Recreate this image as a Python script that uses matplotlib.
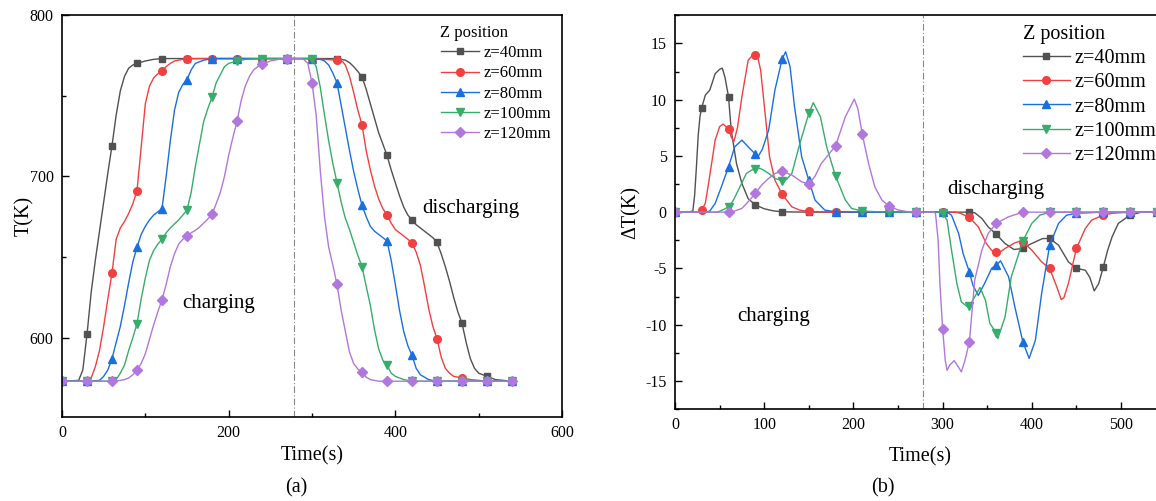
import matplotlib
matplotlib.use("Agg")
import matplotlib.pyplot as plt
import numpy as np
from matplotlib.ticker import MultipleLocator

plt.rcParams['font.family'] = ['Liberation Serif', 'DejaVu Serif']
plt.rcParams['axes.unicode_minus'] = False

# ---- panel (a): temperature T(K) vs time ----
ta40 = [0, 20, 25, 30, 35, 40, 45, 50, 55, 60, 65, 70, 75, 80, 85, 90, 100, 110, 120, 150, 180, 210, 240, 270, 300,
        330, 340, 345, 350, 355, 360, 365, 370, 375, 380, 385, 390, 395, 400, 405, 410, 415, 420, 425, 430, 435, 440,
        445, 450, 455, 460, 465, 470, 475, 480, 485, 490, 495, 500, 510, 520, 540]
Ta40 = [573, 573.5, 580, 602, 628, 648, 666, 684, 702, 719, 738, 753, 762, 767, 769, 770, 771.5, 772.5, 773, 773, 773,
        773, 773, 773, 773, 773, 772, 770.5, 768, 765, 761.6, 754, 745, 736, 727, 720, 713, 704, 696, 688, 681, 676,
        673, 670, 668, 666, 664, 662, 659, 652, 644, 635, 625, 616, 609, 597, 587, 581, 578, 576, 574, 573]

ta60 = [0, 30, 35, 40, 45, 50, 55, 60, 65, 70, 75, 80, 85, 90, 95, 100, 105, 110, 115, 120, 125, 130, 135, 140, 150,
        180, 210, 240, 270, 300, 330, 337, 340, 345, 350, 355, 360, 365, 370, 375, 380, 385, 390, 395, 400, 405, 410,
        415, 420, 425, 430, 435, 440, 445, 450, 455, 460, 465, 470, 480, 490, 510, 540]
Ta60 = [573, 573, 575, 582, 592, 607, 624, 640, 661, 668, 672, 677, 683, 691, 718, 745, 756, 761, 763.5, 765.3, 768,
        770, 771.5, 772, 773, 773, 773, 773, 773, 773, 772, 771, 769, 762, 752, 741, 732, 716, 704, 694, 686, 680, 676,
        671, 667, 665, 663, 661, 658.7, 653, 645, 632, 618, 607, 599.4, 588, 581, 578, 576, 575, 574, 573, 573]

ta80 = [0, 30, 45, 50, 55, 60, 65, 70, 75, 80, 85, 90, 95, 100, 105, 110, 115, 120, 125, 130, 135, 140, 145, 150, 155,
        160, 170, 180, 210, 240, 270, 300, 310, 315, 320, 325, 330, 335, 340, 345, 350, 355, 360, 365, 370, 375, 380,
        385, 390, 395, 400, 405, 410, 415, 420, 425, 430, 440, 450, 480, 510, 540]
Ta80 = [573, 573, 573.5, 576, 580, 587, 597, 607, 620, 634, 647, 656, 664, 669, 673, 676, 678, 680, 700, 722, 741, 752,
        757, 760, 766, 770, 772, 773, 773, 773, 773, 773, 772.5, 771.5, 769, 764, 758, 744, 730, 716, 703, 692, 682,
        675, 669, 666, 664, 662, 660, 648, 633, 617, 604, 595, 589, 581, 577, 574, 573, 573, 573, 573]

ta100 = [0, 30, 60, 65, 70, 75, 80, 85, 90, 95, 100, 105, 110, 115, 120, 125, 130, 135, 140, 145, 150, 155, 160, 165,
         170, 175, 180, 185, 190, 195, 200, 210, 220, 240, 270, 300, 305, 310, 315, 320, 325, 330, 335, 340, 345, 350,
         355, 360, 365, 370, 375, 380, 385, 390, 395, 400, 410, 420, 450, 480, 510, 540]
Ta100 = [573, 573, 573, 574, 578, 583, 592, 600, 608.6, 624, 637, 648, 654, 658, 661, 665, 668, 670.5, 673, 676, 679,
         690, 706, 720, 734, 742, 749, 758, 763, 768, 770, 771.5, 772.5, 773, 773, 773, 768, 755, 738, 722, 708, 696,
         684, 674, 667, 659, 651, 644, 632, 620, 605, 593, 586, 583, 578, 576, 574, 573, 573, 573, 573, 573]

ta120 = [0, 30, 60, 70, 75, 80, 85, 90, 95, 100, 105, 110, 115, 120, 125, 130, 135, 140, 145, 150, 155, 160, 165, 170,
         175, 180, 185, 190, 195, 200, 205, 210, 215, 220, 225, 230, 235, 240, 250, 260, 270, 280, 290, 295, 300, 305,
         310, 315, 320, 325, 330, 335, 340, 345, 350, 355, 360, 365, 370, 380, 390, 420, 450, 480, 510, 540]
Ta120 = [573, 573, 573, 573.5, 574, 575, 577, 580, 584, 590, 599, 608, 616, 623.5, 633, 644, 652, 658, 661, 663, 665,
         666.5, 668.5, 671, 673.5, 676.5, 683, 690, 700, 713, 724, 734, 747, 756, 762, 766, 768, 769.4, 771.5, 772.5,
         773, 773, 772.5, 770, 758, 738, 703, 675, 656, 645, 633, 617, 604, 591, 584, 580.5, 578.7, 575.5, 574, 573,
         573, 573, 573, 573, 573, 573]

# ---- panel (b): temperature difference dT(K) vs time ----
tb40 = [0, 15, 20, 22, 24, 26, 28, 30, 34, 39, 45, 50, 53, 56, 60, 63, 69, 75, 82, 90, 100, 110, 120, 150, 180, 210,
        240, 270, 300, 330, 336, 344, 351, 360, 370, 380, 390, 397, 404, 412, 420, 430, 441, 450, 460, 465, 470, 475,
        480, 485, 490, 497, 510, 523, 540]
dT40 = [0, 0, 0.1, 1.5, 4.0, 6.8, 8.5, 9.3, 10.4, 10.85, 12.3, 12.7, 12.8, 12.0, 10.26, 7.3, 4.3, 2.55, 1.2, 0.65, 0.3,
        0.12, 0.03, 0, 0, 0, 0, 0, 0, 0, -0.05, -0.56, -1.3, -1.96, -2.79, -3.32, -3.23, -2.9, -2.64, -2.35, -2.34,
        -2.94, -4.42, -5.0, -5.16, -5.8, -7.0, -6.35, -4.92, -3.4, -2.2, -1.0, -0.27, 0, 0]

tb60 = [0, 25, 30, 34, 37, 41, 45, 50, 54, 60, 63, 66, 70, 75, 82, 87, 90, 92, 96, 101, 106, 112, 120, 131, 140, 150,
        180, 210, 240, 270, 300, 314, 320, 330, 340, 349, 355, 360, 363, 370, 381, 386, 390, 400, 411, 420, 428, 433,
        436, 441, 450, 460, 467, 480, 490, 510, 540]
dT60 = [0, 0, 0.15, 0.8, 2.25, 4.3, 6.4, 7.6, 7.83, 7.38, 6.7, 6.26, 7.5, 10.26, 13.5, 13.95, 13.97, 14.05, 12.63,
        8.78, 4.92, 2.84, 1.6, 0.47, 0.18, 0.06, 0, 0, 0, 0, 0, 0, -0.1, -0.47, -1.3, -2.79, -3.4, -3.53, -3.62, -3.23,
        -2.73, -2.6, -2.64, -3.38, -4.42, -5.0, -6.64, -7.77, -7.6, -6.35, -3.23, -1.45, -0.71, -0.27, -0.1, 0, 0]

tb80 = [0, 35, 39, 45, 52, 60, 67, 75, 82, 90, 93, 98, 105, 112, 120, 124, 129, 134, 142, 150, 157, 168, 180, 210, 240,
        270, 300, 306, 310, 318, 323, 330, 334, 340, 347, 355, 360, 365, 374, 381, 390, 397, 404, 411, 420, 430, 439,
        450, 480, 510, 540]
dT80 = [0, 0, 0.1, 0.77, 2.25, 4.03, 5.81, 6.4, 5.81, 5.16, 4.92, 5.6, 7.3, 10.85, 13.58, 14.26, 12.93, 9.37, 4.92,
        2.84, 1.07, 0.18, 0.03, 0, 0, 0, 0, -0.05, -0.27, -1.9, -3.68, -5.31, -6.5, -7.4, -6.35, -5.0, -4.72, -4.33,
        -5.75, -8.42, -11.54, -13.0, -11.4, -7.24, -2.94, -1.0, -0.27, -0.1, 0, 0, 0]

tb100 = [0, 45, 49, 55, 60, 65, 71, 80, 86, 90, 92, 98, 105, 112, 120, 125, 131, 140, 150, 155, 163, 170, 180, 191,
         198, 210, 240, 270, 295, 300, 305, 310, 316, 321, 328, 330, 336, 342, 348, 353, 360, 362, 370, 377, 390, 400,
         409, 420, 450, 480, 510, 540]
dT100 = [0, 0, 0.05, 0.25, 0.47, 1.0, 1.96, 3.44, 3.75, 3.8, 3.97, 3.8, 3.44, 3.0, 2.79, 2.9, 3.44, 6.11, 8.78, 9.73,
         8.48, 5.81, 3.2, 1.07, 0.33, 0.09, 0, 0, 0, -0.1, -0.71, -3.38, -6.35, -7.98, -8.42, -8.36, -7.53, -6.7, -7.83,
         -9.9, -10.7, -11.24, -9.31, -5.75, -2.55, -1.0, -0.27, 0, 0, 0, 0, 0]

tb120 = [0, 60, 65, 75, 82, 90, 97, 105, 112, 120, 131, 142, 150, 157, 164, 172, 180, 191, 201, 205, 210, 217, 224,
         232, 240, 250, 260, 270, 290, 292, 295, 297, 300, 303, 305, 308, 313, 318, 321, 325, 330, 336, 344, 351, 360,
         374, 390, 420, 450, 480, 510, 540]
dT120 = [0, 0, 0.05, 0.33, 0.92, 1.66, 2.4, 3.0, 3.44, 3.62, 3.3, 2.7, 2.49, 3.2, 4.33, 5.1, 5.9, 8.48, 10.05, 9.2,
         6.91, 4.33, 2.25, 1.07, 0.53, 0.2, 0.05, 0, 0, -0.1, -2.49, -6.35, -10.35, -13.2, -14.06, -13.6, -13.2, -13.8,
         -14.2, -13.2, -11.54, -6.05, -3.38, -1.9, -1.0, -0.41, 0, 0, 0, 0, 0, 0]

labels = ['z=40mm', 'z=60mm', 'z=80mm', 'z=100mm', 'z=120mm']
colors = ['#515151', '#F14040', '#1A6FDF', '#37AD6B', '#B177DE']
markers = ['s', 'o', '^', 'v', 'D']
msizes = [4.5, 5.5, 6, 6, 5]
switch_time = 278


def draw(ax, series):
    for (t, y), lab, c, m, ms in zip(series, labels, colors, markers, msizes):
        t = np.asarray(t)
        every = [int(i) for i in np.flatnonzero(t % 30 == 0)]   # symbols every 30 s
        ax.plot(t, y, color=c, lw=1.0, marker=m, ms=ms, mec=c, mfc=c, markevery=every, label=lab)
    ax.axvline(switch_time, color='#888888', lw=0.8, dashes=(6, 2, 1, 2))
    ax.tick_params(which='both', direction='in', labelsize=11.5, pad=6)
    ax.tick_params(which='major', length=5, width=1)
    ax.tick_params(which='minor', length=3, width=1)
    for s in ax.spines.values():
        s.set_linewidth(1.2)


fig = plt.figure(figsize=(11.56, 5.01), dpi=100)
ax1 = fig.add_axes([62 / 1156, 84.3 / 501, 500 / 1156, 401.7 / 501])
ax2 = fig.add_axes([675 / 1156, 92 / 501, 490.6 / 1156, 393.7 / 501])

draw(ax1, [(ta40, Ta40), (ta60, Ta60), (ta80, Ta80), (ta100, Ta100), (ta120, Ta120)])
ax1.set_xlim(0, 600)
ax1.set_ylim(551, 800)
ax1.xaxis.set_major_locator(MultipleLocator(200))
ax1.xaxis.set_minor_locator(MultipleLocator(100))
ax1.yaxis.set_major_locator(MultipleLocator(100))
ax1.yaxis.set_minor_locator(MultipleLocator(50))
ax1.set_xlabel('Time(s)', fontsize=14.5, labelpad=4)
ax1.set_ylabel('T(K)', fontsize=14.5, labelpad=-3)
ax1.text(188, 621, 'charging', fontsize=15, ha='center', va='center')
ax1.text(490, 680, 'discharging', fontsize=15, ha='center', va='center')
ax1.legend(loc='upper left', bbox_to_anchor=(0.757, 0.975), frameon=False, title='Z position', alignment='left',
           fontsize=12, title_fontsize=12, handlelength=2.3, handletextpad=0.3, labelspacing=0.25,
           borderpad=0, borderaxespad=0)

draw(ax2, [(tb40, dT40), (tb60, dT60), (tb80, dT80), (tb100, dT100), (tb120, dT120)])
ax2.set_xlim(0, 550)
ax2.set_ylim(-17.5, 17.5)
ax2.xaxis.set_major_locator(MultipleLocator(100))
ax2.xaxis.set_minor_locator(MultipleLocator(50))
ax2.yaxis.set_major_locator(MultipleLocator(5))
ax2.yaxis.set_minor_locator(MultipleLocator(2.5))
ax2.set_xlabel('Time(s)', fontsize=14.5, labelpad=10)
ax2.set_ylabel('ΔT(K)', fontsize=14.5, labelpad=3)
ax2.text(111, -9.3, 'charging', fontsize=15, ha='center', va='center')
ax2.text(360, 2.0, 'discharging', fontsize=15, ha='center', va='center')
ax2.legend(loc='upper left', bbox_to_anchor=(0.71, 0.975), frameon=False, title='Z position', alignment='left',
           fontsize=14.5, title_fontsize=14.5, handlelength=2.3, handletextpad=0.25, labelspacing=0.25,
           borderpad=0, borderaxespad=0)

fig.text(296 / 1156, 1 - 488 / 501, '(a)', fontsize=14.5, ha='center', va='center')
fig.text(883 / 1156, 1 - 488 / 501, '(b)', fontsize=14.5, ha='center', va='center')

fig.savefig('out.png', dpi=100)
